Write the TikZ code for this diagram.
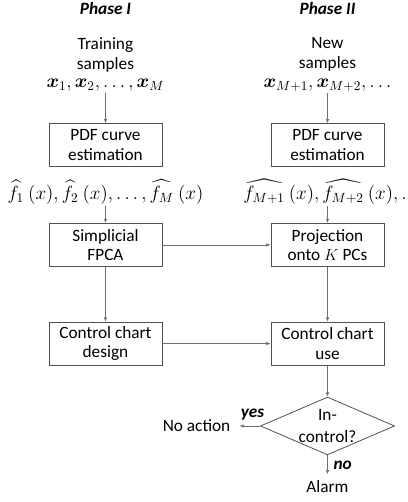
\documentclass[tikz,border=0pt]{standalone}
\usepackage{amsmath, amssymb}
\usepackage{bm}
\usepackage{fontspec}
\setmainfont{Carlito}
\usetikzlibrary{arrows.meta, positioning, shapes.geometric}
\definecolor{LineGray}{RGB}{110, 110, 110}
\definecolor{BoxGray}{RGB}{80, 80, 80}

\begin{document}
\begin{tikzpicture}[font=\fontsize{13}{14.5}\selectfont, st/.style={draw=BoxGray, line width=0.6pt, minimum width=2.99cm, minimum height=1.14cm, align=center, inner sep=1pt}, ar/.style={-{Latex[length=1.1mm, width=0.9mm]}, LineGray, line width=0.45pt}, dm/.style={diamond, draw=BoxGray, line width=0.6pt, aspect=2.3, minimum width=3.55cm, minimum height=1.53cm, inner sep=0pt, align=center, font=\fontsize{13}{16}\selectfont}, mt/.style={font=\fontsize{14}{16}\selectfont, inner sep=1pt}, lb/.style={font=\fontsize{13}{15}\selectfont\bfseries\itshape, text=black}]
\useasboundingbox (0,0) rectangle (10.795,-13.282);
% headers
\node[lb] (ph1) at (2.79,-0.22) {Phase I};
\node[lb] (ph2) at (8.665,-0.22) {Phase II};
% inputs
\node[align=center, font=\fontsize{13}{15}\selectfont] (tr) at (2.79,-1.45) {Training\\samples};
\node[align=center, font=\fontsize{13}{15}\selectfont] (nw) at (8.665,-1.45) {New\\samples};
\node[mt] (xs1) at (2.79,-2.25) {$\boldsymbol{x}_1, \boldsymbol{x}_2,\ldots, \boldsymbol{x}_M$};
\node[mt] (xs2) at (8.665,-2.25) {$\boldsymbol{x}_{M+1}, \boldsymbol{x}_{M+2},\ldots$};
% boxes
\node[st] (pdf1) at (2.79,-3.84) {PDF curve\\estimation};
\node[st] (pdf2) at (8.665,-3.84) {PDF curve\\estimation};
\node[mt] (f1) at (2.79,-5.08) {$\widehat{f}_1\ (x), \widehat{f}_2\ (x), \ldots, \widehat{f_M}\ (x)$};
\node[mt, anchor=west] (f2) at (6.40,-5.08) {$\widehat{f_{M+1}}\ (x), \widehat{f_{M+2}}\ (x), \ldots$};
\node[st] (fpca) at (2.79,-6.48) {Simplicial\\FPCA};
\node[st] (pj) at (8.665,-6.48) {Projection\\onto $K$ PCs};
\node[st] (ccd) at (2.79,-9.09) {Control chart\\design};
\node[st] (ccu) at (8.665,-9.09) {Control chart\\use};
\node[dm] (ic) at (8.665,-11.27) {In-\\control?};
\node (na) at (5.2,-11.27) {No action};
\node (al) at (8.665,-12.88) {Alarm};
% connectors
\draw[ar] (xs1) -- (pdf1); \draw[ar] (xs2) -- (pdf2); \draw[ar] (f1) -- (fpca); \draw[ar] (f2.south -| pj.north) -- (pj); \draw[ar] (fpca) -- (ccd); \draw[ar] (pj) -- (ccu);
\draw[ar] (fpca) -- (pj); \draw[ar] (ccd) -- (ccu); \draw[ar] (ccu) -- (ic);
\draw[ar, shorten >=1.2mm] (ic) -- (na) node[pos=0.3, above=1pt, lb] {yes};
\draw[ar, shorten >=0.5mm] (ic) -- (al) node[midway, right=1pt, lb] {no};
\end{tikzpicture}
\end{document}
